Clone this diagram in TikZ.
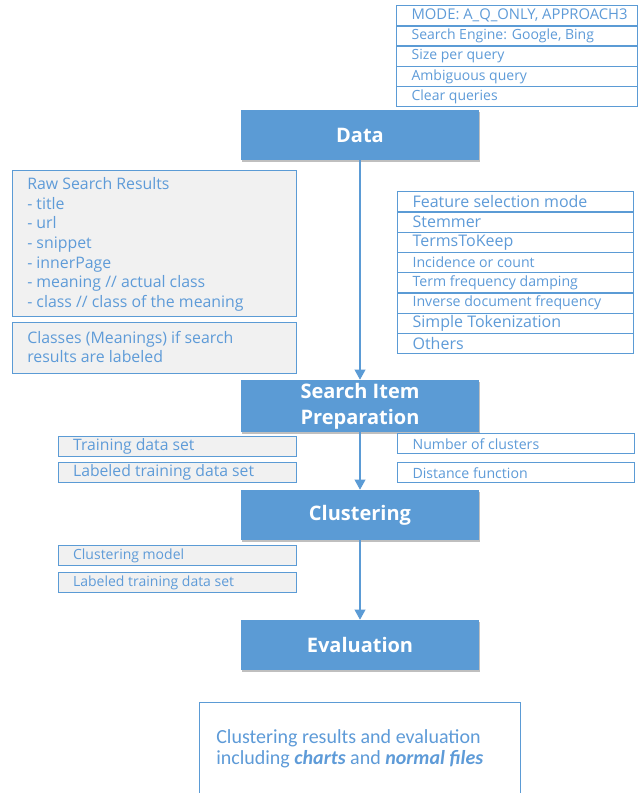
\documentclass[tikz,border=0pt]{standalone}
\usepackage{fontspec}
\setmainfont{Open Sans}
\newfontfamily\calibfont{Carlito}
\usetikzlibrary{arrows.meta,shadows}

\definecolor{mblue}{HTML}{5B9BD5}
\definecolor{tblue}{HTML}{5E9BD8}
\definecolor{pale}{HTML}{F1F1F1}

% one row of a parameter list: frame node plus a left-aligned text node
\newcommand\listrow[5]{%
  \node[#1] (#2) at (#3,#4) {};
  \node[rowtext] (#2-t) at ([xshift=11.5pt]#2.west) {#5};
}

\begin{document}
\begin{tikzpicture}[x=0.75pt,y=-0.75pt,
  stage/.style={fill=mblue, draw=none, text=white, font=\bfseries\fontsize{15}{19.5}\selectfont,
    minimum width=178.5pt, minimum height=37.5pt, align=center, inner sep=0pt,
    drop shadow={shadow xshift=1pt, shadow yshift=-1.2pt, opacity=0.25, fill=black}},
  frame/.style={draw=mblue, line width=1.1pt, anchor=north west, inner sep=0pt},
  toprow/.style={frame, fill=white, minimum width=180.75pt, minimum height=15.15pt},
  featrow/.style={frame, fill=white, minimum width=177pt, minimum height=15.19pt},
  inrow/.style={frame, fill=pale, minimum width=178.5pt, minimum height=15pt},
  parrow/.style={frame, fill=white, minimum width=177.75pt, minimum height=15pt},
  rowtext/.style={anchor=west, inner sep=0pt, text=tblue},
  flow/.style={draw=mblue, line width=1.1pt, -{Triangle[width=8pt,length=7.5pt]}},
]
\useasboundingbox[fill=white] (0,0) rectangle (640,793);

% data source settings
\begin{scope}[every node/.append style={font=\fontsize{10.5}{12}\selectfont}]
\listrow{toprow}{mode}{396}{5}{\fontsize{11.1}{12}\selectfont MODE: A\_Q\_ONLY, APPROACH3}
\listrow{toprow}{engine}{396}{25.2}{Search Engine: Google, Bing}
\listrow{toprow}{size}{396}{45.4}{Size per query}
\listrow{toprow}{ambig}{396}{65.6}{Ambiguous query}
\listrow{toprow}{clear}{396}{85.8}{Clear queries}
\end{scope}

% processing stages
\node[stage] (data) at (360,135) {Data};
\node[stage, minimum height=39pt] (prep) at (360,406) {Search Item\\Preparation};
\node[stage] (clus) at (360,515) {Clustering};
\node[stage] (eval) at (360,645) {Evaluation};

\draw[flow] (data) -- (prep);
\draw[flow] (prep) -- (clus);
\draw[flow] (clus) -- (eval);

% raw input description
\node[frame, fill=pale, minimum width=213pt, minimum height=109.5pt] (raw) at (12,170) {};
\node[anchor=north west, inner sep=0pt, text=tblue, align=left,
      font=\fontsize{11.9}{14.75}\selectfont] (raw-t) at (27,177.3)
  {Raw Search Results\\- title\\- url\\- snippet\\- innerPage\\- meaning // actual class\\- class // class of the meaning};
\node[frame, fill=pale, minimum width=213pt, minimum height=38.25pt] (cls) at (12,322) {};
\node[anchor=north west, inner sep=0pt, text=tblue, align=left,
      font=\fontsize{11.9}{14.25}\selectfont] (cls-t) at (27,331.3)
  {Classes (Meanings) if search\\results are labeled};

% feature extraction settings
\begin{scope}[every node/.append style={font=\fontsize{12}{13}\selectfont}]
\listrow{featrow}{fsel}{397}{191}{Feature selection mode}
\listrow{featrow}{stem}{397}{211.25}{Stemmer}
\listrow{featrow}{keep}{397}{231.5}{TermsToKeep}
\end{scope}
\begin{scope}[every node/.append style={font=\fontsize{10.6}{12}\selectfont}]
\listrow{featrow}{inc}{397}{251.75}{Incidence or count}
\listrow{featrow}{tfd}{397}{272}{Term frequency damping}
\listrow{featrow}{idf}{397}{292.25}{Inverse document frequency}
\end{scope}
\begin{scope}[every node/.append style={font=\fontsize{12}{13}\selectfont}]
\listrow{featrow}{tok}{397}{312.5}{Simple Tokenization}
\listrow{featrow}{oth}{397}{332.75}{Others}
\end{scope}

% prepared data sets
\begin{scope}[every node/.append style={font=\fontsize{11.8}{13}\selectfont}]
\listrow{inrow}{train}{57.5}{436}{Training data set}
\listrow{inrow}{ltrain}{57.5}{462}{Labeled training data set}
\end{scope}

% clustering parameters
\begin{scope}[every node/.append style={font=\fontsize{10.6}{12}\selectfont}]
\listrow{parrow}{ncl}{397}{433}{Number of clusters}
\listrow{parrow}{dist}{397}{462}{Distance function}
\end{scope}

% clustering outputs
\begin{scope}[every node/.append style={font=\fontsize{10.5}{12}\selectfont}]
\listrow{inrow}{model}{57.5}{545}{Clustering model}
\listrow{inrow}{ltrain2}{57.5}{572}{Labeled training data set}
\end{scope}

% final results
\node[frame, fill=white, minimum width=240.75pt, minimum height=80pt] (res) at (199,702) {};
\node[anchor=north west, inner sep=0pt, text=tblue, align=left,
      font=\calibfont\fontsize{15}{15.75}\selectfont] (res-t) at (216,729)
  {Clustering results and evaluation\\including \textbf{\textit{charts}} and \textbf{\textit{normal files}}};
\end{tikzpicture}
\end{document}
